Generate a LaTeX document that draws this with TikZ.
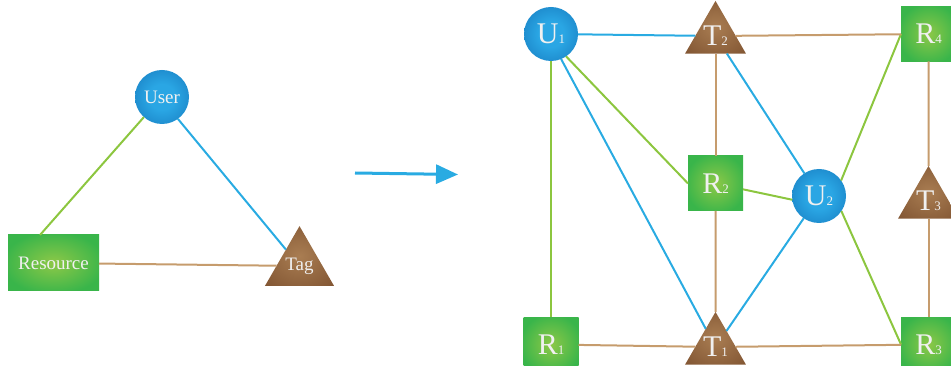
\documentclass[tikz,border=0pt]{standalone}
\usepackage{fontspec}
\setmainfont{Liberation Serif}
\usetikzlibrary{arrows.meta,shapes.geometric}

\definecolor{ublue}{HTML}{29ABE2}
\definecolor{rgreen}{HTML}{8CC63F}
\definecolor{ttan}{HTML}{C69C6D}
\definecolor{ballin}{HTML}{2AA6E4}
\definecolor{ballout}{HTML}{0B62AA}
\definecolor{resin}{HTML}{8DC847}
\definecolor{resout}{HTML}{39B54A}
\definecolor{tagin}{HTML}{A97D52}
\definecolor{tagout}{HTML}{7E5230}
\pgfdeclareradialshading{usrshade}{\pgfpoint{0bp}{0bp}}{color(0bp)=(ballin); color(12bp)=(ballin); color(50bp)=(ballout)}
\pgfdeclareradialshading{resshade}{\pgfpoint{0bp}{0bp}}{color(0bp)=(resin); color(28bp)=(resout); color(50bp)=(resout)}
\pgfdeclareradialshading{tagshade}{\pgfpoint{0bp}{0bp}}{color(0bp)=(tagin); color(38bp)=(tagout); color(50bp)=(tagout)}
\newcommand{\lsub}[1]{{\fontsize{13}{13}\selectfont#1}}

\begin{document}
\begin{tikzpicture}[x=1pt,y=-1pt,
    every node/.style={inner sep=0pt,outer sep=0pt,text=white!94!black},
    usr/.style={circle,minimum size=54pt,shading=usrshade},
    res/.style={rectangle,minimum width=55pt,minimum height=55pt,shading=resshade},
    tag/.style={regular polygon,regular polygon sides=3,minimum size=61.2pt,shading=tagshade},
    big/.style={font=\fontsize{30}{30}\selectfont},
    small/.style={font=\fontsize{19}{19}\selectfont},
    ln/.style={line width=2pt}]
    \useasboundingbox (0,0) rectangle (951,366);

    \node(user)[usr,small] at (162,97) {User};
    \node(res)[res,small,minimum width=91pt,minimum height=56pt] at (53.5,263) {Resource};
    \node(tag)[tag,small,minimum size=70.4pt] at (299.5,266) {Tag};

    \path[draw=rgreen,ln](user.228) -- ([xshift=-13.5pt]res.north);
    \path[draw=ublue,ln](user.-54) -- (tag);
    \path[draw=ttan,ln](res) -- (tag);

    \coordinate(as) at (355,173);
    \coordinate(ae) at (458,174.5);
    \path[draw=ublue,line width=3pt,-{Triangle[length=22pt,width=19pt]}](as) -- (ae);

    \node(u1)[usr,big] at (551,34) {U\lsub{1}};
    \node(t2)[tag,big] at (715.5,36) {T\lsub{2}};
    \node(r4)[res,big] at (928.5,34) {R\lsub{4}};
    \node(r2)[res,big] at (715.5,183.5) {R\lsub{2}};
    \node(u2)[usr,big] at (819,196) {U\lsub{2}};
    \node(t3)[tag,big] at (928.5,201) {T\lsub{3}};
    \node(r1)[res,big] at (551,344.5) {R\lsub{1}};
    \node(t1)[tag,big] at (715.5,347) {T\lsub{1}};
    \node(r3)[res,big] at (928.5,344.5) {R\lsub{3}};

    \path[draw=ublue,ln](u1) -- (t2);
    \path[draw=ublue,ln](u1.-68) -- (t1);
    \path[draw=ublue,ln](t2) -- (u2);
    \path[draw=ublue,ln](u2) -- (t1);

    \path[draw=rgreen,ln](u1) -- (r1);
    \path[draw=rgreen,ln](u1.-56) -- (r2.west);
    \path[draw=rgreen,ln](r2) -- (u2.188);
    \path[draw=rgreen,ln](u2.35) -- (r4.west);
    \path[draw=rgreen,ln](u2.-34) -- (r3.west);

    \path[draw=ttan,ln](t2) -- (r4);
    \path[draw=ttan,ln](t2) -- (r2);
    \path[draw=ttan,ln](r2) -- (t1);
    \path[draw=ttan,ln](r1) -- (t1);
    \path[draw=ttan,ln](t1) -- (r3);
    \path[draw=ttan,ln](r4) -- (t3);
    \path[draw=ttan,ln](t3) -- (r3);
  \end{tikzpicture}
\end{document}
